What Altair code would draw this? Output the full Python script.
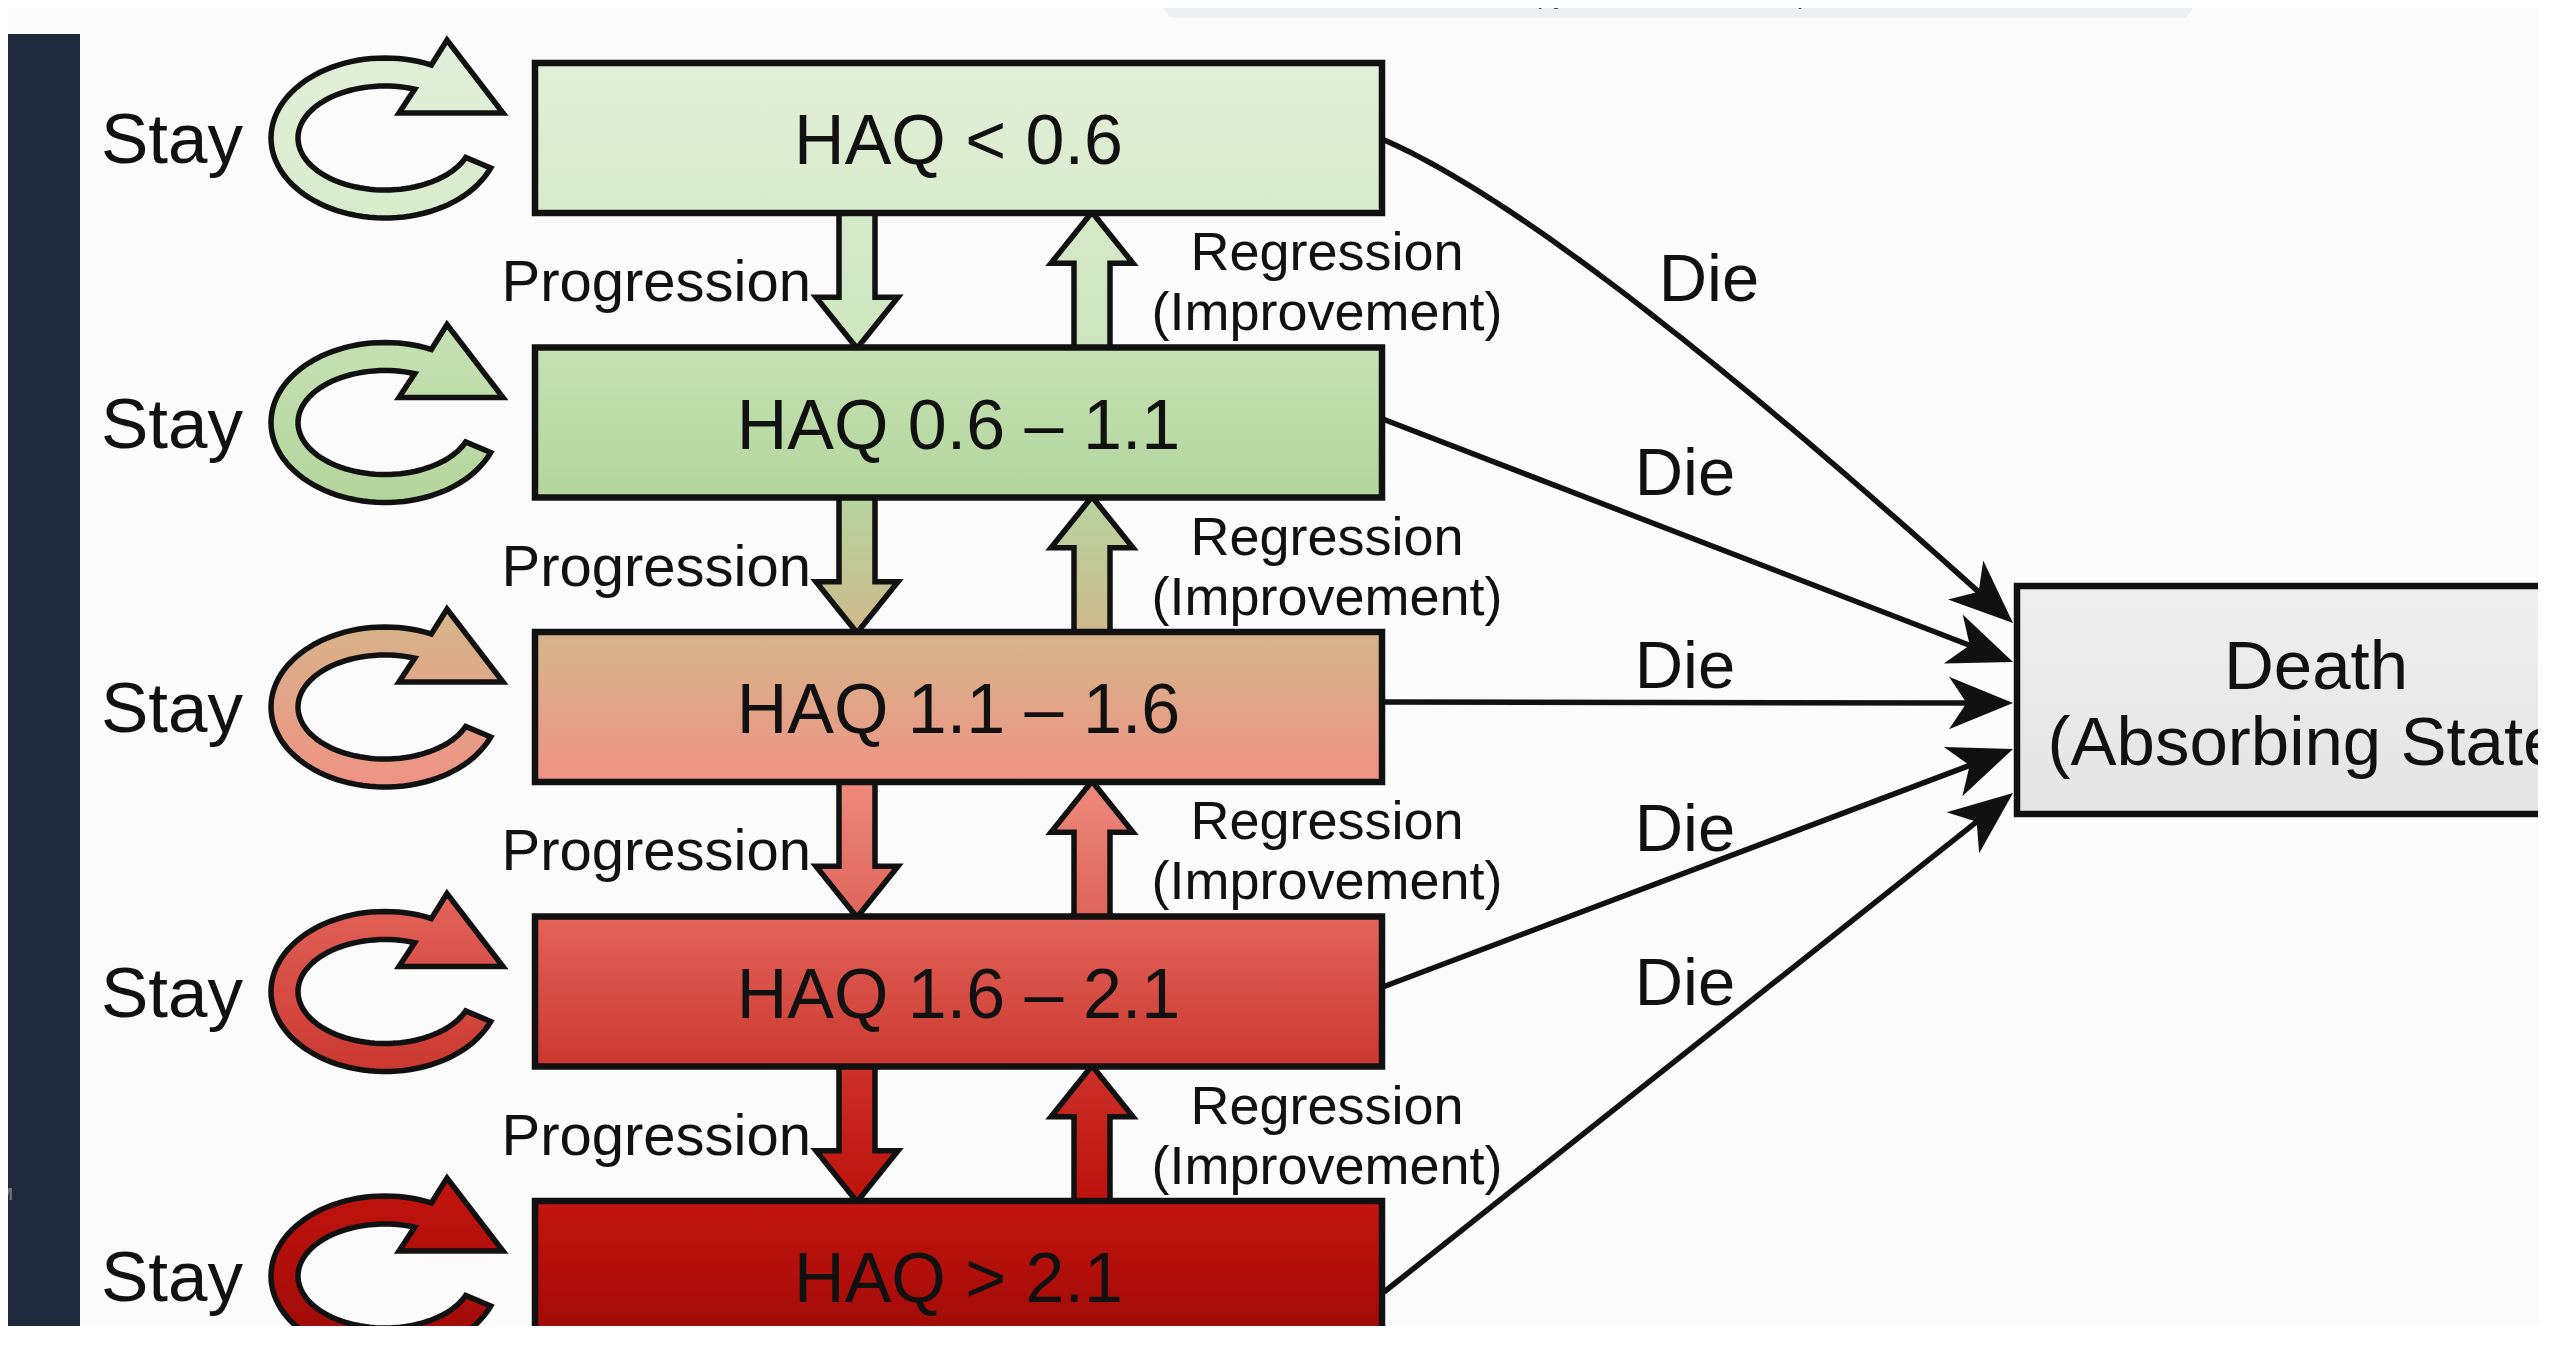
import math
import altair as alt
import numpy as np
import pandas as pd

# ---------------- content ----------------
states = ["HAQ < 0.6", "HAQ 0.6 – 1.1", "HAQ 1.1 – 1.6", "HAQ 1.6 – 2.1", "HAQ > 2.1"]
stay_label = "Stay"
progression_label = "Progression"
regression_label = ["Regression", "(Improvement)"]
die_label = "Die"
death_label = ["Death", "(Absorbing State)"]
note_label = "Note: NMB = (QALY × WTP threshold) − Total Cost"
corner_label = "M"

# ---------------- styles ----------------
state_top = ["#e2efd9", "#c6e1b4", "#d5b68a", "#e3645a", "#c4140e"]
state_bottom = ["#d8ebcc", "#b3d69c", "#ef9284", "#cb3830", "#9c0a07"]
arrow_top = ["#d4e9c8", "#b6d49f", "#ec8a7c", "#cc3129"]
arrow_bottom = ["#cde5bf", "#cdb98b", "#df645a", "#bd120c"]
death_fill = ["#efefef", "#e4e4e4"]
panel_color = "#1e293b"
note_fill = "#eceef2"
page_bg = "#fbfbfb"
INK = "#111111"
FONT = "Liberation Sans"

# ---------------- layout (page pixels) ----------------
PAGE = 8
W, H = 2530, 1318
BOX_L, BOX_R = 535, 1382
BOX_TOP, BOX_H, STEP = 63, 150, 284.5
C_X = 385
STAY_X = 101
PROG_X, REG_X = 857, 1092
DEATH_L, DEATH_T, DEATH_B = 2017, 586, 814
DEATH_CX = 2316
DIE_START_DY = [2, -3, -5, -5, 16]
DIE_TIP_Y = [623, 662, 703, 749, 793]
DIE_TIP_X = 2013
DIE_LABEL_POS = [(1709, 301), (1685, 495), (1685, 688), (1685, 851), (1685, 1005)]

xs = alt.Scale(domain=[PAGE, PAGE + W], nice=False, zero=False)
ys = alt.Scale(domain=[PAGE, PAGE + H], nice=False, zero=False, reverse=True)


def center_y(i):
    return BOX_TOP + BOX_H / 2 + i * STEP


def gap_mid(j):
    return BOX_TOP + BOX_H + (STEP - BOX_H) / 2 + j * STEP


def X(f="x"):
    return alt.X(f"{f}:Q", scale=xs, axis=None)


def Y(f="y"):
    return alt.Y(f"{f}:Q", scale=ys, axis=None)


def vgrad(c0, c1):
    return alt.LinearGradient(
        gradient="linear", x1=0, y1=0, x2=0, y2=1,
        stops=[alt.GradientStop(offset=0, color=c0), alt.GradientStop(offset=1, color=c1)],
    )


def path_str(pts):
    return "M" + " L".join(f"{x:.4f},{y:.4f}" for x, y in pts) + " Z"


def rect_layer(x, x2, y, y2, **mark):
    df = pd.DataFrame({"x": [x], "x2": [x2], "y": [y], "y2": [y2]})
    return alt.Chart(df).mark_rect(**mark).encode(
        x=X(), x2=alt.X2("x2:Q"), y=Y(), y2=alt.Y2("y2:Q"))


def text_layer(df, size, align="center", style="normal", color=INK, weight="normal"):
    return alt.Chart(df).mark_text(
        font=FONT, fontSize=size, align=align, baseline="alphabetic",
        fontStyle=style, color=color, fontWeight=weight,
    ).encode(x=X(), y=Y(), text="t:N")


# ---------------- shapes (symbol paths) ----------------
S_C = 100.0


def ell(rx, ry, deg):
    r = math.radians(deg)
    return (rx * math.cos(r), -ry * math.sin(r))


outer = [ell(114, 80, d) for d in np.linspace(-22, -294, 80)]
inner = [ell(87, 52, d) for d in np.linspace(-290, -22, 80)]
head = [(62, -98), (118, -25), (14, -25)]
c_path = path_str([(x / S_C, y / S_C) for x, y in outer + head + inner])
C_SIZE = (2 * S_C) ** 2

S_B = 68.0
sh, hh, hb = 18 / S_B, 41 / S_B, 1 - 51 / S_B
down_pts = [(-sh, -1), (sh, -1), (sh, hb), (hh, hb), (0, 1), (-hh, hb), (-sh, hb)]
up_pts = [(x, -y) for x, y in down_pts]
down_path = path_str(down_pts)
up_path = path_str(up_pts)
B_SIZE = (2 * S_B) ** 2

S_H = 32.0
head_path = path_str([(1, 0), (-1, -0.82), (-0.45, 0), (-1, 0.82)])
H_SIZE = (2 * S_H) ** 2

layers = []

# dark side panel and top note strip
layers.append(rect_layer(-10, 80, 34, 1400, fill=panel_color, strokeWidth=0))
layers.append(rect_layer(1164, 2192, -40, 18, fill=note_fill, cornerRadius=12, strokeWidth=0))
layers.append(text_layer(pd.DataFrame({"x": [1667], "y": [4], "t": [note_label]}), 25,
                         style="italic", color="#3a3a3a"))
layers.append(text_layer(pd.DataFrame({"x": [13], "y": [1200], "t": [corner_label]}), 17,
                         align="right", color="#6c7689", weight="bold"))

# "Die" transition lines + arrowheads
line_rows, head_rows = [], []
for i in range(len(states)):
    p0 = np.array([BOX_R + 2, center_y(i) + DIE_START_DY[i]], dtype=float)
    tip = np.array([DIE_TIP_X, DIE_TIP_Y[i]], dtype=float)
    if i == 0:
        p1 = np.array([1569.0, 220.0])
        t = np.linspace(0, 1, 60)[:, None]
        curve = (1 - t) ** 2 * p0 + 2 * (1 - t) * t * p1 + t ** 2 * tip
        d = tip - p1
    else:
        curve = np.array([p0, tip])
        d = tip - p0
    u = d / np.linalg.norm(d)
    c = tip - S_H * u
    pts = [p for p in curve if np.linalg.norm(p - tip) > S_H] + [c]
    for k, p in enumerate(pts):
        line_rows.append({"x": p[0], "y": p[1], "id": i, "o": k})
    head_rows.append({"x": c[0], "y": c[1], "ang": math.degrees(math.atan2(d[1], d[0])) % 360})

layers.append(alt.Chart(pd.DataFrame(line_rows)).mark_line(
    color=INK, strokeWidth=5.5).encode(x=X(), y=Y(), detail="id:N", order="o:Q"))
layers.append(alt.Chart(pd.DataFrame(head_rows)).mark_point(
    shape=head_path, size=H_SIZE, filled=True, fill=INK, strokeWidth=0, opacity=1
).encode(x=X(), y=Y(), angle=alt.Angle("ang:Q", scale=None)))

# progression / regression block arrows
for j in range(len(states) - 1):
    g = vgrad(arrow_top[j], arrow_bottom[j])
    for ax, pth in ((PROG_X, down_path), (REG_X, up_path)):
        df = pd.DataFrame({"x": [ax], "y": [gap_mid(j)]})
        layers.append(alt.Chart(df).mark_point(
            shape=pth, size=B_SIZE, filled=True, fill=g, stroke=INK, strokeWidth=5.5,
            opacity=1, strokeJoin="miter").encode(x=X(), y=Y()))

# stay loops and state boxes
for i in range(len(states)):
    cy = center_y(i)
    g = vgrad(state_top[i], state_bottom[i])
    df = pd.DataFrame({"x": [C_X], "y": [cy]})
    layers.append(alt.Chart(df).mark_point(
        shape=c_path, size=C_SIZE, filled=True, fill=g, stroke=INK, strokeWidth=5.5,
        opacity=1, strokeJoin="miter").encode(x=X(), y=Y()))
    layers.append(rect_layer(BOX_L, BOX_R, cy - BOX_H / 2, cy + BOX_H / 2,
                             fill=g, stroke=INK, strokeWidth=6.5))

# death box
layers.append(rect_layer(DEATH_L, 2720, DEATH_T, DEATH_B,
                         fill=vgrad(death_fill[0], death_fill[1]), stroke=INK, strokeWidth=6.5))

# texts
n = len(states)
layers.append(text_layer(pd.DataFrame({
    "x": [STAY_X] * n, "y": [center_y(i) + 25 for i in range(n)], "t": [stay_label] * n}),
    71, align="left"))
layers.append(text_layer(pd.DataFrame({
    "x": [(BOX_L + BOX_R) / 2] * n, "y": [center_y(i) + 26 for i in range(n)], "t": states}), 70))
layers.append(text_layer(pd.DataFrame({
    "x": [811] * (n - 1), "y": [gap_mid(j) + 21 for j in range(n - 1)],
    "t": [progression_label] * (n - 1)}), 58, align="right"))
reg_rows = []
for j in range(n - 1):
    reg_rows.append({"x": 1327, "y": gap_mid(j) - 10, "t": regression_label[0]})
    reg_rows.append({"x": 1327, "y": gap_mid(j) + 50, "t": regression_label[1]})
layers.append(text_layer(pd.DataFrame(reg_rows), 54))
layers.append(text_layer(pd.DataFrame({
    "x": [p[0] for p in DIE_LABEL_POS], "y": [p[1] for p in DIE_LABEL_POS],
    "t": [die_label] * n}), 67))
layers.append(text_layer(pd.DataFrame({
    "x": [DEATH_CX, DEATH_CX], "y": [689, 765], "t": death_label}), 69))

chart = alt.layer(*layers).properties(
    width=W, height=H, padding=0,
    autosize=alt.AutoSizeParams(type="none"),
    background=page_bg,
).configure_view(strokeWidth=0)

chart.save("out.html", embed_options={"renderer": "svg", "actions": False})
